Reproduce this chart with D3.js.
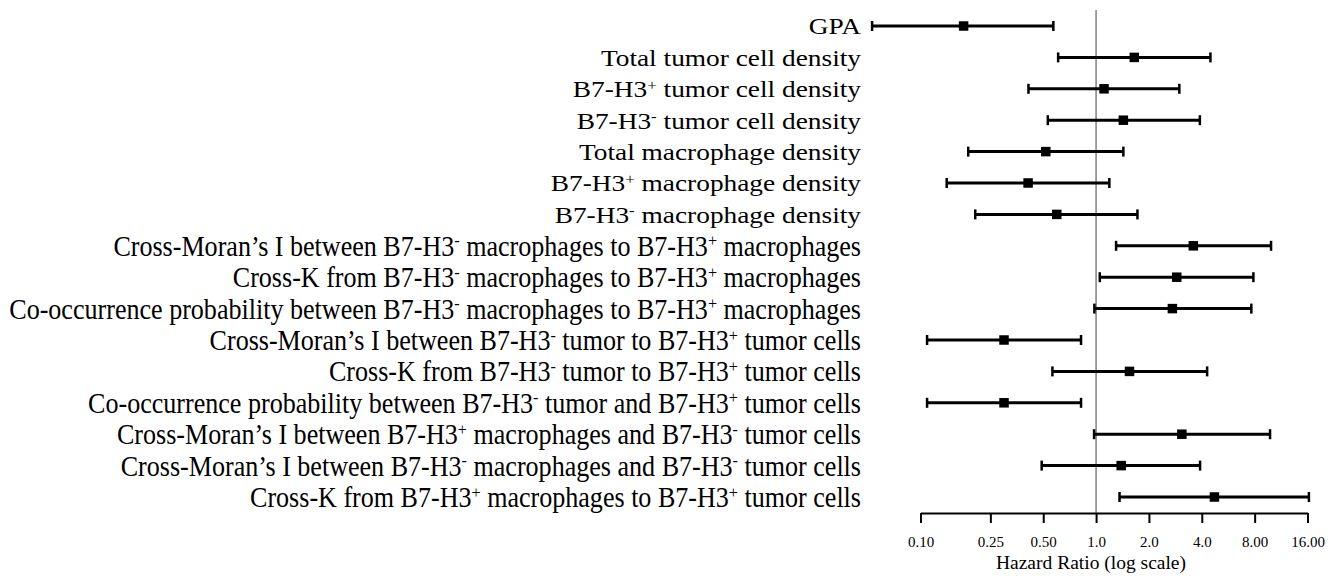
<!DOCTYPE html>
<html>
<head>
<meta charset="utf-8">
<script src="https://cdn.jsdelivr.net/npm/d3@7"></script>
<style>
  body { margin: 0; background: #fff; }
  svg { display: block; }
</style>
</head>
<body>
<svg id="vis" width="1335" height="582"></svg>
<script>
// "^+" and "^-" mark superscripts
const labels = [
    "GPA",
    "Total tumor cell density",
    "B7-H3^+ tumor cell density",
    "B7-H3^- tumor cell density",
    "Total macrophage density",
    "B7-H3^+ macrophage density",
    "B7-H3^- macrophage density",
    "Cross-Moran’s I between B7-H3^- macrophages to B7-H3^+ macrophages",
    "Cross-K from B7-H3^- macrophages to B7-H3^+ macrophages",
    "Co-occurrence probability between B7-H3^- macrophages to B7-H3^+ macrophages",
    "Cross-Moran’s I between B7-H3^- tumor to B7-H3^+ tumor cells",
    "Cross-K from B7-H3^- tumor to B7-H3^+ tumor cells",
    "Co-occurrence probability between B7-H3^- tumor and B7-H3^+ tumor cells",
    "Cross-Moran’s I between B7-H3^+ macrophages and B7-H3^- tumor cells",
    "Cross-Moran’s I between B7-H3^- macrophages and B7-H3^- tumor cells",
    "Cross-K from B7-H3^+ macrophages to B7-H3^+ tumor cells"
];
const hr    = [0.176, 1.65, 1.11, 1.43, 0.517, 0.41, 0.597, 3.58, 2.88, 2.72, 0.299, 1.55, 0.299, 3.08, 1.39, 4.72];
const lower = [0.053, 0.608, 0.412, 0.531, 0.187, 0.141, 0.205, 1.30, 1.05, 0.978, 0.109, 0.564, 0.109, 0.974, 0.49, 1.36];
const upper = [0.571, 4.48, 2.98, 3.9, 1.43, 1.19, 1.72, 9.92, 7.87, 7.66, 0.821, 4.29, 0.821, 9.79, 3.91, 16.3];

const tickVals = [0.1, 0.25, 0.5, 1, 2, 4, 8, 16];
const tickLabels = ["0.10", "0.25", "0.50", "1.0", "2.0", "4.0", "8.00", "16.00"];

const svg = d3.select("#vis");
const xscale = d3.scaleLog().base(2).domain([0.1, 16]).range([920.5, 1307.5]);
const yscale = d3.scalePoint().domain(d3.range(labels.length)).range([26, 497]);
const AXIS_Y = 513;
const LABEL_X = 861;

const rows = labels.map((name, i) => ({
    id: i, name: name, hr: hr[i], lo: lower[i], hi: upper[i]
}));

function main() {
    drawLabels();
    drawRefLine();
    drawBars();
    drawAxis();
}

function drawLabels() {
    const g = svg.append("g");
    rows.forEach(d => {
        // first seven labels are set in a wider face, the rest in a tall narrow one
        const wide = d.id < 7;
        const size = wide ? 24 : 28.5;
        const sx = wide ? 1.14 : 0.915;
        const txt = g.append("text")
            .attr("transform", `translate(${LABEL_X},${yscale(d.id)}) scale(${sx},1)`)
            .attr("dy", "0.35em")
            .style("text-anchor", "end")
            .style("font-family", "'Liberation Serif', serif")
            .style("font-size", size + "px")
            .style("fill", "#000");
        // split into plain text and superscript pieces
        const parts = d.name.split(/\^([+-])/);
        parts.forEach((p, k) => {
            if (p === "") return;
            if (k % 2 === 1) {
                txt.append("tspan")
                    .attr("baseline-shift", "super")
                    .style("font-size", (size * 0.62) + "px")
                    .text(p);
            } else {
                txt.append("tspan").text(p);
            }
        });
    });
}

function drawRefLine() {
    svg.append("line")
        .attr("x1", xscale(1)).attr("x2", xscale(1))
        .attr("y1", 10).attr("y2", AXIS_Y)
        .attr("stroke", "#808080")
        .attr("stroke-width", 1.5);
}

function drawBars() {
    const CAP = 5;
    const BOX = 9.5;
    const g = svg.append("g");
    g.selectAll(".ci").data(rows, d => d.id).join("line")
        .attr("class", "ci")
        .attr("x1", d => xscale(d.lo)).attr("x2", d => xscale(d.hi))
        .attr("y1", d => yscale(d.id)).attr("y2", d => yscale(d.id))
        .attr("stroke", "#000").attr("stroke-width", 3);
    g.selectAll(".capl").data(rows, d => d.id).join("line")
        .attr("class", "capl")
        .attr("x1", d => xscale(d.lo)).attr("x2", d => xscale(d.lo))
        .attr("y1", d => yscale(d.id) - CAP).attr("y2", d => yscale(d.id) + CAP)
        .attr("stroke", "#000").attr("stroke-width", 2.5);
    g.selectAll(".caph").data(rows, d => d.id).join("line")
        .attr("class", "caph")
        .attr("x1", d => xscale(d.hi)).attr("x2", d => xscale(d.hi))
        .attr("y1", d => yscale(d.id) - CAP).attr("y2", d => yscale(d.id) + CAP)
        .attr("stroke", "#000").attr("stroke-width", 2.5);
    g.selectAll(".pt").data(rows, d => d.id).join("rect")
        .attr("class", "pt")
        .attr("x", d => xscale(d.hr) - BOX / 2)
        .attr("y", d => yscale(d.id) - BOX / 2)
        .attr("width", BOX).attr("height", BOX)
        .attr("fill", "#000");
}

function drawAxis() {
    const axis = d3.axisBottom(xscale)
        .tickValues(tickVals)
        .tickFormat((v, i) => tickLabels[i])
        .tickSizeInner(10)
        .tickSizeOuter(0)
        .tickPadding(13);
    const g = svg.append("g")
        .attr("transform", `translate(0,${AXIS_Y})`)
        .call(axis);
    g.select(".domain").attr("stroke", "#000").attr("stroke-width", 2);
    g.selectAll(".tick line").attr("stroke", "#000").attr("stroke-width", 2);
    g.selectAll(".tick text")
        .style("font-family", "'Liberation Serif', serif")
        .style("font-size", "15px")
        .attr("fill", "#000");
    svg.append("text")
        .attr("x", 1091)
        .attr("y", 562)
        .attr("dy", "0.35em")
        .style("text-anchor", "middle")
        .style("font-family", "'Liberation Serif', serif")
        .style("font-size", "19.5px")
        .text("Hazard Ratio (log scale)");
}

main();
</script>
</body>
</html>
